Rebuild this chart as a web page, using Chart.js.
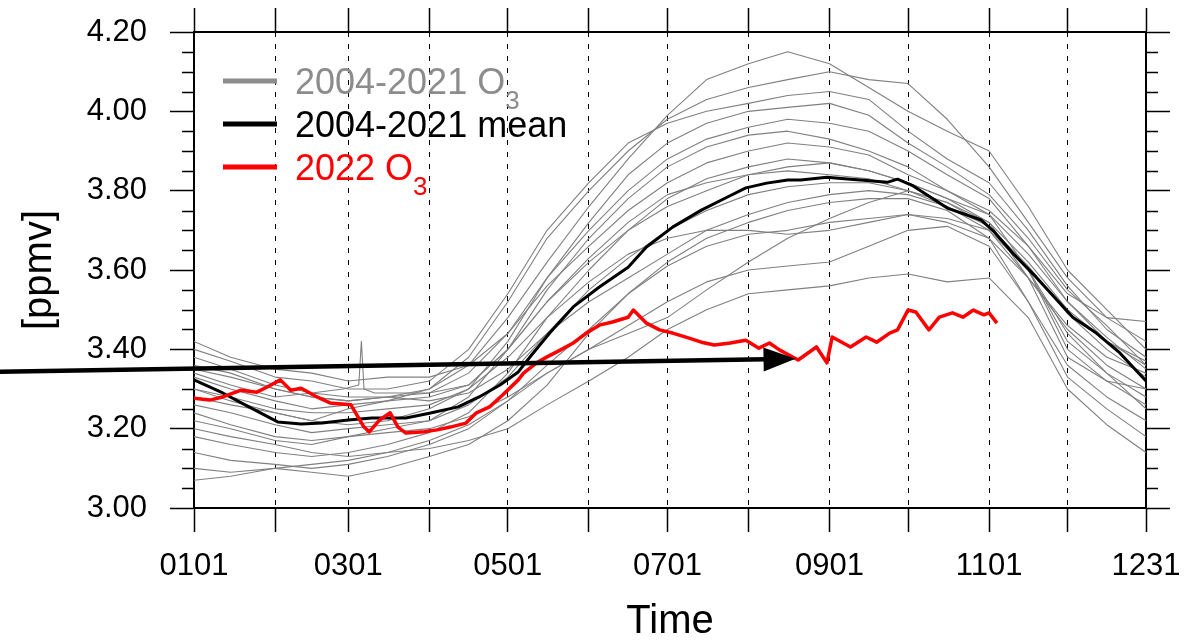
<!DOCTYPE html>
<html>
<head>
<meta charset="utf-8">
<script src="https://cdn.jsdelivr.net/npm/chart.js@4.4.0/dist/chart.umd.min.js"></script>
<style>
  body { margin: 0; background: #fff; }
  canvas { display: block; }
</style>
</head>
<body>
<canvas id="o3Chart" width="1201" height="642"></canvas>
<script>
// day-of-year positions of the month ticks and the labelled ones
const monthDays = [1, 32, 60, 91, 121, 152, 182, 213, 244, 274, 305, 335, 365];
const monthLabels = {1: '0101', 60: '0301', 121: '0501', 182: '0701', 244: '0901', 305: '1101', 365: '1231'};
const yMajorTicks = [3.0, 3.2, 3.4, 3.6, 3.8, 4.0, 4.2];

// 2004-2021 single years (semi-monthly)
const grayDays = [1, 15, 32, 46, 60, 75, 91, 106, 121, 136, 152, 167, 182, 197, 213, 228, 244, 259, 274, 289, 305, 320, 335, 350, 365];
const o3_2004 = [3.30, 3.27, 3.24, 3.22, 3.25, 3.27, 3.30, 3.36, 3.48, 3.62, 3.76, 3.88, 3.99, 4.08, 4.12, 4.15, 4.12, 4.06, 4.00, 3.95, 3.90, 3.76, 3.60, 3.50, 3.40];
const o3_2005 = [3.35, 3.33, 3.30, 3.28, 3.27, 3.28, 3.30, 3.38, 3.52, 3.68, 3.80, 3.90, 3.98, 4.03, 4.06, 4.08, 4.10, 4.08, 4.07, 3.98, 3.86, 3.72, 3.58, 3.48, 3.42];
const o3_2006 = [3.40, 3.37, 3.33, 3.32, 3.30, 3.30, 3.32, 3.40, 3.54, 3.70, 3.82, 3.92, 3.97, 4.00, 4.02, 4.04, 4.05, 4.03, 3.95, 3.88, 3.82, 3.70, 3.56, 3.45, 3.38];
const o3_2007 = [3.28, 3.26, 3.24, 3.22, 3.21, 3.22, 3.25, 3.30, 3.42, 3.58, 3.72, 3.84, 3.92, 3.97, 4.00, 4.01, 4.02, 3.99, 3.92, 3.86, 3.79, 3.68, 3.55, 3.46, 3.36];
const o3_2008 = [3.36, 3.34, 3.30, 3.28, 3.27, 3.28, 3.29, 3.34, 3.44, 3.58, 3.70, 3.80, 3.88, 3.93, 3.96, 3.98, 3.97, 3.95, 3.90, 3.84, 3.78, 3.66, 3.52, 3.43, 3.35];
const o3_2009 = [3.22, 3.20, 3.17, 3.16, 3.18, 3.20, 3.22, 3.28, 3.40, 3.55, 3.68, 3.78, 3.86, 3.91, 3.94, 3.95, 3.93, 3.90, 3.86, 3.80, 3.74, 3.60, 3.40, 3.32, 3.30];
const o3_2010 = [3.42, 3.38, 3.35, 3.34, 3.32, 3.33, 3.33, 3.36, 3.44, 3.56, 3.66, 3.75, 3.82, 3.87, 3.90, 3.92, 3.91, 3.89, 3.84, 3.80, 3.75, 3.66, 3.54, 3.48, 3.47];
const o3_2011 = [3.18, 3.16, 3.14, 3.13, 3.14, 3.16, 3.19, 3.24, 3.34, 3.48, 3.60, 3.70, 3.78, 3.83, 3.86, 3.88, 3.87, 3.85, 3.82, 3.78, 3.72, 3.58, 3.38, 3.32, 3.26];
const o3_2012 = [3.33, 3.30, 3.27, 3.25, 3.26, 3.27, 3.28, 3.31, 3.40, 3.52, 3.63, 3.72, 3.79, 3.82, 3.84, 3.85, 3.84, 3.83, 3.80, 3.77, 3.72, 3.62, 3.50, 3.42, 3.37];
const o3_2013 = [3.26, 3.24, 3.21, 3.19, 3.20, 3.21, 3.22, 3.26, 3.33, 3.44, 3.55, 3.63, 3.70, 3.75, 3.79, 3.81, 3.82, 3.82, 3.80, 3.76, 3.71, 3.61, 3.49, 3.40, 3.33];
const o3_2014 = [3.38, 3.35, 3.31, 3.29, 3.28, 3.28, 3.27, 3.29, 3.35, 3.44, 3.52, 3.58, 3.64, 3.70, 3.74, 3.77, 3.79, 3.80, 3.79, 3.76, 3.70, 3.58, 3.46, 3.38, 3.34];
const o3_2015 = [3.14, 3.12, 3.11, 3.10, 3.11, 3.13, 3.16, 3.20, 3.27, 3.36, 3.45, 3.54, 3.62, 3.68, 3.72, 3.75, 3.77, 3.78, 3.78, 3.75, 3.68, 3.52, 3.36, 3.28, 3.22];
const o3_2016 = [3.24, 3.21, 3.18, 3.17, 3.18, 3.19, 3.20, 3.23, 3.28, 3.34, 3.40, 3.44, 3.48, 3.55, 3.62, 3.68, 3.73, 3.77, 3.80, 3.77, 3.71, 3.60, 3.44, 3.34, 3.25];
const o3_2017 = [3.30, 3.28, 3.25, 3.24, 3.24, 3.25, 3.26, 3.30, 3.38, 3.48, 3.57, 3.64, 3.68, 3.70, 3.70, 3.69, 3.70, 3.72, 3.74, 3.72, 3.68, 3.58, 3.45, 3.36, 3.30];
const o3_2018 = [3.10, 3.09, 3.10, 3.11, 3.12, 3.14, 3.17, 3.21, 3.27, 3.34, 3.40, 3.46, 3.52, 3.57, 3.60, 3.61, 3.62, 3.66, 3.70, 3.71, 3.66, 3.52, 3.33, 3.25, 3.18];
const o3_2019 = [3.20, 3.18, 3.16, 3.14, 3.13, 3.14, 3.15, 3.17, 3.20, 3.26, 3.32, 3.38, 3.45, 3.50, 3.54, 3.55, 3.56, 3.58, 3.59, 3.57, 3.58, 3.48, 3.30, 3.21, 3.14];
const o3_2020 = [3.07, 3.08, 3.10, 3.09, 3.08, 3.10, 3.13, 3.16, 3.22, 3.31, 3.44, 3.54, 3.61, 3.66, 3.69, 3.70, 3.72, 3.73, 3.74, 3.73, 3.70, 3.60, 3.42, 3.34, 3.28];
// one year has a short spike in early March
const spikeDays = [1, 15, 32, 46, 58, 64, 65, 66, 70, 91, 106, 121, 136, 152, 167, 182, 197, 213, 228, 244, 259, 274, 289, 305, 320, 335, 350, 365];
const o3_2021 = [3.34, 3.31, 3.28, 3.29, 3.30, 3.31, 3.42, 3.30, 3.29, 3.29, 3.31, 3.40, 3.52, 3.62, 3.70, 3.76, 3.80, 3.84, 3.86, 3.87, 3.85, 3.82, 3.78, 3.74, 3.64, 3.52, 3.42, 3.36];

// 2004-2021 mean
const meanDays = [1, 12, 22, 33, 42, 50, 60, 69, 82, 91, 102, 110, 118, 125, 130, 137, 146, 156, 167, 174, 184, 195, 205, 212, 220, 228, 233, 243, 252, 257, 266, 270, 276, 284, 289, 302, 307, 314, 323, 332, 337, 346, 355, 365];
const meanValues = [3.323, 3.290, 3.255, 3.217, 3.212, 3.214, 3.222, 3.227, 3.227, 3.239, 3.255, 3.280, 3.310, 3.343, 3.385, 3.441, 3.507, 3.557, 3.607, 3.658, 3.708, 3.751, 3.784, 3.807, 3.819, 3.827, 3.827, 3.834, 3.829, 3.826, 3.821, 3.829, 3.812, 3.778, 3.756, 3.726, 3.696, 3.643, 3.582, 3.517, 3.481, 3.441, 3.391, 3.320];

// 2022
const redDays = [1, 7, 12, 19, 25, 29, 34, 38, 42, 48, 53, 61, 66, 68, 72, 76, 79, 82, 89, 94, 99, 105, 109, 114, 119, 125, 127, 132, 136, 141, 146, 151, 156, 161, 167, 169, 174, 179, 184, 190, 195, 200, 206, 212, 217, 221, 225, 232, 239, 243, 245, 252, 258, 262, 267, 270, 274, 277, 282, 286, 291, 295, 299, 303, 305, 308];
const redValues = [3.277, 3.272, 3.280, 3.297, 3.292, 3.305, 3.323, 3.297, 3.302, 3.280, 3.265, 3.260, 3.204, 3.192, 3.222, 3.240, 3.204, 3.189, 3.192, 3.197, 3.204, 3.214, 3.240, 3.255, 3.285, 3.323, 3.340, 3.366, 3.381, 3.398, 3.416, 3.441, 3.461, 3.469, 3.481, 3.499, 3.466, 3.449, 3.441, 3.429, 3.418, 3.411, 3.416, 3.423, 3.403, 3.416, 3.398, 3.373, 3.406, 3.366, 3.431, 3.406, 3.431, 3.418, 3.441, 3.449, 3.499, 3.494, 3.449, 3.481, 3.492, 3.481, 3.499, 3.487, 3.492, 3.466];

// arrow annotation, in data units (day, ppmv)
const arrowFrom = {x: -75, y: 3.343};
const arrowTo = {x: 231, y: 3.376};

const FONT = "'Liberation Sans', Arial, Helvetica, sans-serif";
const GRAY = '#808080';

function toPoints(days, vals) {
    return vals.map((v, i) => ({x: days[i], y: v}));
}

const grayYears = [o3_2004, o3_2005, o3_2006, o3_2007, o3_2008, o3_2009, o3_2010, o3_2011, o3_2012,
    o3_2013, o3_2014, o3_2015, o3_2016, o3_2017, o3_2018, o3_2019, o3_2020];

const datasets = [
    {label: '2022 O3', data: toPoints(redDays, redValues), borderColor: '#ff0000', borderWidth: 3.5, order: 0},
    {label: '2004-2021 mean', data: toPoints(meanDays, meanValues), borderColor: '#000000', borderWidth: 3, order: 1}
];
grayYears.forEach((vals, i) => {
    datasets.push({label: 'O3 ' + (2004 + i), data: toPoints(grayDays, vals), borderColor: GRAY, borderWidth: 1.1, order: 2});
});
datasets.push({label: 'O3 2021', data: toPoints(spikeDays, o3_2021), borderColor: GRAY, borderWidth: 1.1, order: 2});

const monthTicks = s => { s.ticks = monthDays.map(v => ({value: v})); };
const yTicks = s => { s.ticks = yMajorTicks.map(v => ({value: v})); };
// keep the label overhang from pushing the plot area around
const fixWidth = w => s => { s.width = w; s.paddingTop = 0; s.paddingBottom = 0; };
const fixHeight = h => s => { s.height = h; s.paddingLeft = 0; s.paddingRight = 0; };

// white page
const background = {
    id: 'background',
    beforeDraw(chart) {
        const {ctx, width, height} = chart;
        ctx.save();
        ctx.fillStyle = '#ffffff';
        ctx.fillRect(0, 0, width, height);
        ctx.restore();
    }
};

// minor y ticks every 0.05 on both sides
const minorTicks = {
    id: 'minorTicks',
    afterDraw(chart) {
        const {ctx, chartArea} = chart;
        const y = chart.scales.y;
        ctx.save();
        ctx.strokeStyle = '#000';
        ctx.lineWidth = 1.5;
        ctx.beginPath();
        for (let k = 1; k < 24; k++) {
            if (k % 4 === 0) continue;
            const py = Math.round(y.getPixelForValue(3 + k * 0.05)) + 0.5;
            ctx.moveTo(chartArea.left - 12, py);
            ctx.lineTo(chartArea.left, py);
            ctx.moveTo(chartArea.right, py);
            ctx.lineTo(chartArea.right + 12, py);
        }
        ctx.stroke();
        ctx.restore();
    }
};

// legend inside the plot, with subscripts
const legendItems = [
    {label: '2004-2021 O', sub: '3', color: '#8c8c8c'},
    {label: '2004-2021 mean', sub: '', color: '#000000'},
    {label: '2022 O', sub: '3', color: '#ff0000'}
];
const insideLegend = {
    id: 'insideLegend',
    afterDraw(chart) {
        const {ctx, chartArea} = chart;
        ctx.save();
        legendItems.forEach((item, i) => {
            const ly = chartArea.top + 49 + i * 43;
            ctx.strokeStyle = item.color;
            ctx.lineWidth = 5;
            ctx.beginPath();
            ctx.moveTo(chartArea.left + 29, ly);
            ctx.lineTo(chartArea.left + 83, ly);
            ctx.stroke();
            ctx.fillStyle = item.color;
            ctx.textBaseline = 'alphabetic';
            ctx.font = '36px ' + FONT;
            const tx = chartArea.left + 101;
            ctx.fillText(item.label, tx, ly + 13);
            if (item.sub) {
                const w = ctx.measureText(item.label).width;
                ctx.font = '26px ' + FONT;
                ctx.fillText(item.sub, tx + w, ly + 28);
            }
        });
        ctx.restore();
    }
};

// black arrow
const arrow = {
    id: 'arrow',
    afterDraw(chart) {
        const {ctx, scales: {x, y}} = chart;
        const x1 = x.getPixelForValue(arrowFrom.x), y1 = y.getPixelForValue(arrowFrom.y);
        const x2 = x.getPixelForValue(arrowTo.x), y2 = y.getPixelForValue(arrowTo.y);
        const ang = Math.atan2(y2 - y1, x2 - x1);
        const headLen = 32, headHalf = 12;
        const bx = x2 - headLen * Math.cos(ang), by = y2 - headLen * Math.sin(ang);
        ctx.save();
        ctx.strokeStyle = '#000';
        ctx.fillStyle = '#000';
        ctx.lineWidth = 4.5;
        ctx.beginPath();
        ctx.moveTo(x1, y1);
        ctx.lineTo(bx + 2 * Math.cos(ang), by + 2 * Math.sin(ang));
        ctx.stroke();
        ctx.beginPath();
        ctx.moveTo(x2, y2);
        ctx.lineTo(bx + headHalf * Math.sin(ang), by - headHalf * Math.cos(ang));
        ctx.lineTo(bx - headHalf * Math.sin(ang), by + headHalf * Math.cos(ang));
        ctx.closePath();
        ctx.fill();
        ctx.restore();
    }
};

const ctx = document.getElementById('o3Chart').getContext('2d');
new Chart(ctx, {
    type: 'line',
    data: {datasets: datasets},
    options: {
        responsive: false,
        devicePixelRatio: 1,
        animation: false,
        layout: {padding: 0},
        elements: {
            point: {radius: 0},
            line: {tension: 0, borderJoinStyle: 'round'}
        },
        plugins: {
            legend: {display: false},
            tooltip: {enabled: false}
        },
        scales: {
            x: {
                type: 'linear',
                position: 'bottom',
                min: 1,
                max: 365,
                afterBuildTicks: monthTicks,
                afterFit: fixHeight(134),
                ticks: {
                    autoSkip: false,
                    maxRotation: 0,
                    padding: 16,
                    color: '#000',
                    font: {family: FONT, size: 31},
                    callback: v => monthLabels[v] || ''
                },
                grid: {
                    drawOnChartArea: true,
                    drawTicks: true,
                    tickLength: 24,
                    color: '#000',
                    lineWidth: 1,
                    tickWidth: 1.5,
                    tickBorderDash: []
                },
                border: {display: true, color: '#000', width: 2, dash: [5, 7]},
                title: {
                    display: true,
                    text: 'Time',
                    color: '#000',
                    font: {family: FONT, size: 40, lineHeight: 1.0},
                    padding: {top: 0, bottom: 0}
                }
            },
            x2: {
                type: 'linear',
                axis: 'x',
                position: 'top',
                min: 1,
                max: 365,
                afterBuildTicks: monthTicks,
                afterFit: fixHeight(32),
                ticks: {display: false},
                grid: {drawOnChartArea: false, drawTicks: true, tickLength: 24, color: '#000', tickWidth: 1.5},
                border: {display: true, color: '#000', width: 2}
            },
            y: {
                type: 'linear',
                position: 'left',
                min: 3.0,
                max: 4.2,
                afterBuildTicks: yTicks,
                afterFit: fixWidth(194),
                ticks: {
                    padding: 23,
                    color: '#000',
                    font: {family: FONT, size: 31},
                    callback: v => v.toFixed(2)
                },
                grid: {drawOnChartArea: false, drawTicks: true, tickLength: 24, color: '#000', tickWidth: 1.5},
                border: {display: true, color: '#000', width: 2},
                title: {
                    display: true,
                    text: '[ppmv]',
                    color: '#000',
                    font: {family: FONT, size: 40},
                    padding: {top: 16, bottom: 0}
                }
            },
            y2: {
                type: 'linear',
                axis: 'y',
                position: 'right',
                min: 3.0,
                max: 4.2,
                afterBuildTicks: yTicks,
                afterFit: fixWidth(55),
                ticks: {display: false},
                grid: {drawOnChartArea: false, drawTicks: true, tickLength: 24, color: '#000', tickWidth: 1.5},
                border: {display: true, color: '#000', width: 2}
            }
        }
    },
    plugins: [background, minorTicks, insideLegend, arrow]
});
</script>
</body>
</html>
